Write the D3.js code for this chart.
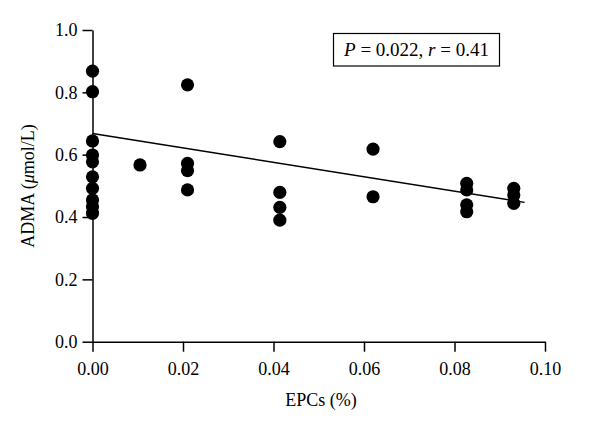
<!DOCTYPE html>
<html>
<head>
<meta charset="utf-8">
<script src="https://cdn.jsdelivr.net/npm/d3@7"></script>
<style>
  html, body { margin: 0; padding: 0; background: #fff; }
  svg { display: block; }
  text { font-family: "Liberation Serif", "Times New Roman", serif; fill: #000; }
</style>
</head>
<body>
<svg id="chart" width="600" height="432"></svg>
<script>
// EPCs (%) and ADMA (µmol/L) for each subject
const epcs = [0, 0, 0, 0, 0, 0, 0, 0, 0, 0,
              0.0105,
              0.021, 0.021, 0.021, 0.021,
              0.0414, 0.0414, 0.0414, 0.0414,
              0.062, 0.062,
              0.0827, 0.0827, 0.0827, 0.0827,
              0.0931, 0.0931, 0.0931];
const adma = [0.868, 0.802, 0.644, 0.599, 0.577, 0.529, 0.492, 0.455, 0.433, 0.412,
              0.567,
              0.824, 0.572, 0.549, 0.487,
              0.642, 0.479, 0.431, 0.390,
              0.618, 0.465,
              0.508, 0.487, 0.439, 0.417,
              0.492, 0.471, 0.444];
// regression line end points [x, y]
const fitLine = [[0, 0.668], [0.0955, 0.447]];
const xTicks = [0, 0.02, 0.04, 0.06, 0.08, 0.10];
const yTicks = [0, 0.2, 0.4, 0.6, 0.8, 1.0];

const svg = d3.select("#chart");
const x = d3.scaleLinear().domain([0, 0.1]).range([92.5, 545]);
const y = d3.scaleLinear().domain([0, 1]).range([341.7, 30]);

const xAxis = svg.append("g")
  .attr("transform", `translate(0,${y(0)})`)
  .call(d3.axisBottom(x).tickValues(xTicks).tickFormat(d3.format(".2f"))
        .tickSize(10).tickSizeOuter(0).tickPadding(11));
const yAxis = svg.append("g")
  .attr("transform", `translate(${x(0)},0)`)
  .call(d3.axisLeft(y).tickValues(yTicks).tickFormat(d3.format(".1f"))
        .tickSize(10).tickSizeOuter(0).tickPadding(5));

[xAxis, yAxis].forEach(g => {
  g.selectAll("path, line").attr("stroke", "#000").attr("stroke-width", 1.5);
  g.selectAll("text").style("font-family", '"Liberation Serif", serif').style("font-size", "18px").attr("fill", "#000");
});

// regression line
svg.append("line")
  .attr("x1", x(fitLine[0][0])).attr("y1", y(fitLine[0][1]))
  .attr("x2", x(fitLine[1][0])).attr("y2", y(fitLine[1][1]))
  .attr("stroke", "#000").attr("stroke-width", 1.5);

// points
svg.append("g").selectAll("circle")
  .data(epcs.map((e, i) => [e, adma[i]]))
  .join("circle")
  .attr("cx", d => x(d[0]))
  .attr("cy", d => y(d[1]))
  .attr("r", 6.6)
  .attr("fill", "#000");

// axis titles
svg.append("text")
  .attr("x", 321).attr("y", 406)
  .attr("text-anchor", "middle")
  .style("font-size", "18px")
  .text("EPCs (%)");

const yl = svg.append("text")
  .attr("transform", "translate(34,186) rotate(-90)")
  .attr("text-anchor", "middle")
  .style("font-size", "18px");
yl.append("tspan").text("ADMA (");
yl.append("tspan").attr("font-style", "italic").text("μ");
yl.append("tspan").text("mol/L)");

// annotation box
svg.append("rect")
  .attr("x", 333.5).attr("y", 33.5).attr("width", 166).attr("height", 32.5)
  .attr("fill", "#fff").attr("stroke", "#000").attr("stroke-width", 1.2);
const ann = svg.append("text")
  .attr("x", 416.5).attr("y", 56)
  .attr("text-anchor", "middle")
  .style("font-size", "19px");
ann.append("tspan").attr("font-style", "italic").text("P");
ann.append("tspan").text(" = 0.022, ");
ann.append("tspan").attr("font-style", "italic").text("r");
ann.append("tspan").text(" = 0.41");
</script>
</body>
</html>
